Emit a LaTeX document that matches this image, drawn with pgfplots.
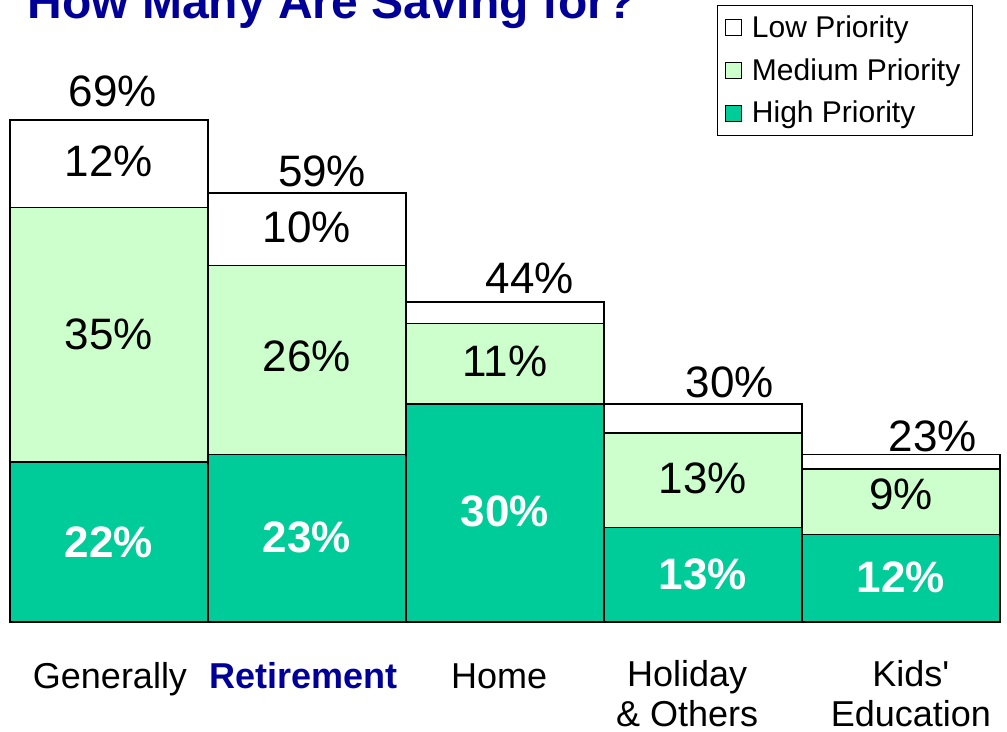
\documentclass[border=0pt]{standalone}
\usepackage{fontspec}
\setmainfont{Liberation Sans}
\usepackage{pgfplots}
\usepackage{pgfplotstable}
\pgfplotsset{compat=1.18}

\definecolor{hiPri}{HTML}{00CC99}
\definecolor{medPri}{HTML}{CCFFCC}
\definecolor{ttlblue}{HTML}{000099}

% category, high, medium, low priority (%)
\pgfplotstableread{
cat high med low
0 22 35 12
1 23 26 10
2 30 11 3
3 13 13 4
4 12 9 2
}\savings

\tikzset{
  pct/.style={anchor=base, font=\fontsize{22}{24}\selectfont},
  pctb/.style={anchor=base, font=\fontsize{22}{24}\selectfont\bfseries, text=white},
}

\begin{document}
\begin{tikzpicture}
\begin{axis}[
  set layers,
  scale only axis, width=495pt, height=291pt,
  xmin=-0.5, xmax=4.5, ymin=0, ymax=80,
  ybar stacked, bar width=1,
  every axis plot/.append style={on layer=axis background},
  every axis plot post/.append style={legend image code/.code={%
    \draw[#1, draw=black, line width=0.5pt] (0pt,-4pt) rectangle (8pt,4pt);
    \path[draw=none, fill=none] (0pt,0pt) -- (11pt,0pt);}},
  clip=false,
  axis line style={draw=none},
  major tick style={draw=none},
  ytick=\empty,
  xtick={0.005,0.98,1.97,2.92,4.05},
  xticklabels={Generally, {\textbf{\color{ttlblue}Retirement}}, Home, {Holiday\\\& Others}, {Kids\textquotesingle\\Education}},
  xticklabel style={align=center, anchor=north, font=\fontsize{18}{20}\selectfont,
    execute at begin node=\strut, yshift=-15.5pt},
  legend style={at={(rel axis cs:0.9727,1.0601)}, anchor=north east, draw=black, line width=0.6pt,
    font=\fontsize{15}{18}\selectfont, row sep=5pt, inner xsep=4pt, inner ysep=3pt},
  legend cell align=left,
  reverse legend,
]
\addplot[fill=hiPri, draw=black, line width=0.75pt] table[x=cat, y=high] {\savings};
\addplot[fill=medPri, draw=black, line width=0.75pt] table[x=cat, y=med] {\savings};
\addplot[fill=white, draw=black, line width=0.75pt] table[x=cat, y=low] {\savings};
\legend{High Priority, Medium Priority, Low Priority}

% totals
\node[pct] at (axis cs:0.02,70.9) {69\%};
\node[pct] at (axis cs:1.076,59.9) {59\%};
\node[pct] at (axis cs:2.126,45.2) {44\%};
\node[pct] at (axis cs:3.136,30.9) {30\%};
\node[pct] at (axis cs:4.16,23.4) {23\%};
% segments
\node[pct] at (axis cs:0,61.3) {12\%};
\node[pct] at (axis cs:0,37.5) {35\%};
\node[pctb] at (axis cs:0,8.9) {22\%};
\node[pct] at (axis cs:1,52.2) {10\%};
\node[pct] at (axis cs:1,34.4) {26\%};
\node[pctb] at (axis cs:1,9.6) {23\%};
\node[pct] at (axis cs:2,33.8) {11\%};
\node[pctb] at (axis cs:2,13.1) {30\%};
\node[pct] at (axis cs:3,17.6) {13\%};
\node[pctb] at (axis cs:3,4.5) {13\%};
\node[pct] at (axis cs:4,15.5) {9\%};
\node[pctb] at (axis cs:4,4.0) {12\%};

% title (cut off at the top edge, as in the original)
\node[anchor=base west, font=\fontsize{24}{26}\selectfont\bfseries, text=ttlblue, inner sep=0pt]
  at (axis cs:-0.414,83.0) {How Many Are Saving for?};

\coordinate (bl) at (axis cs:-0.5505,-15.12);
\coordinate (tr) at (axis cs:4.5354,85.5);
\end{axis}
\pgfresetboundingbox
\path[use as bounding box] (bl) rectangle (tr);
\end{tikzpicture}
\end{document}
